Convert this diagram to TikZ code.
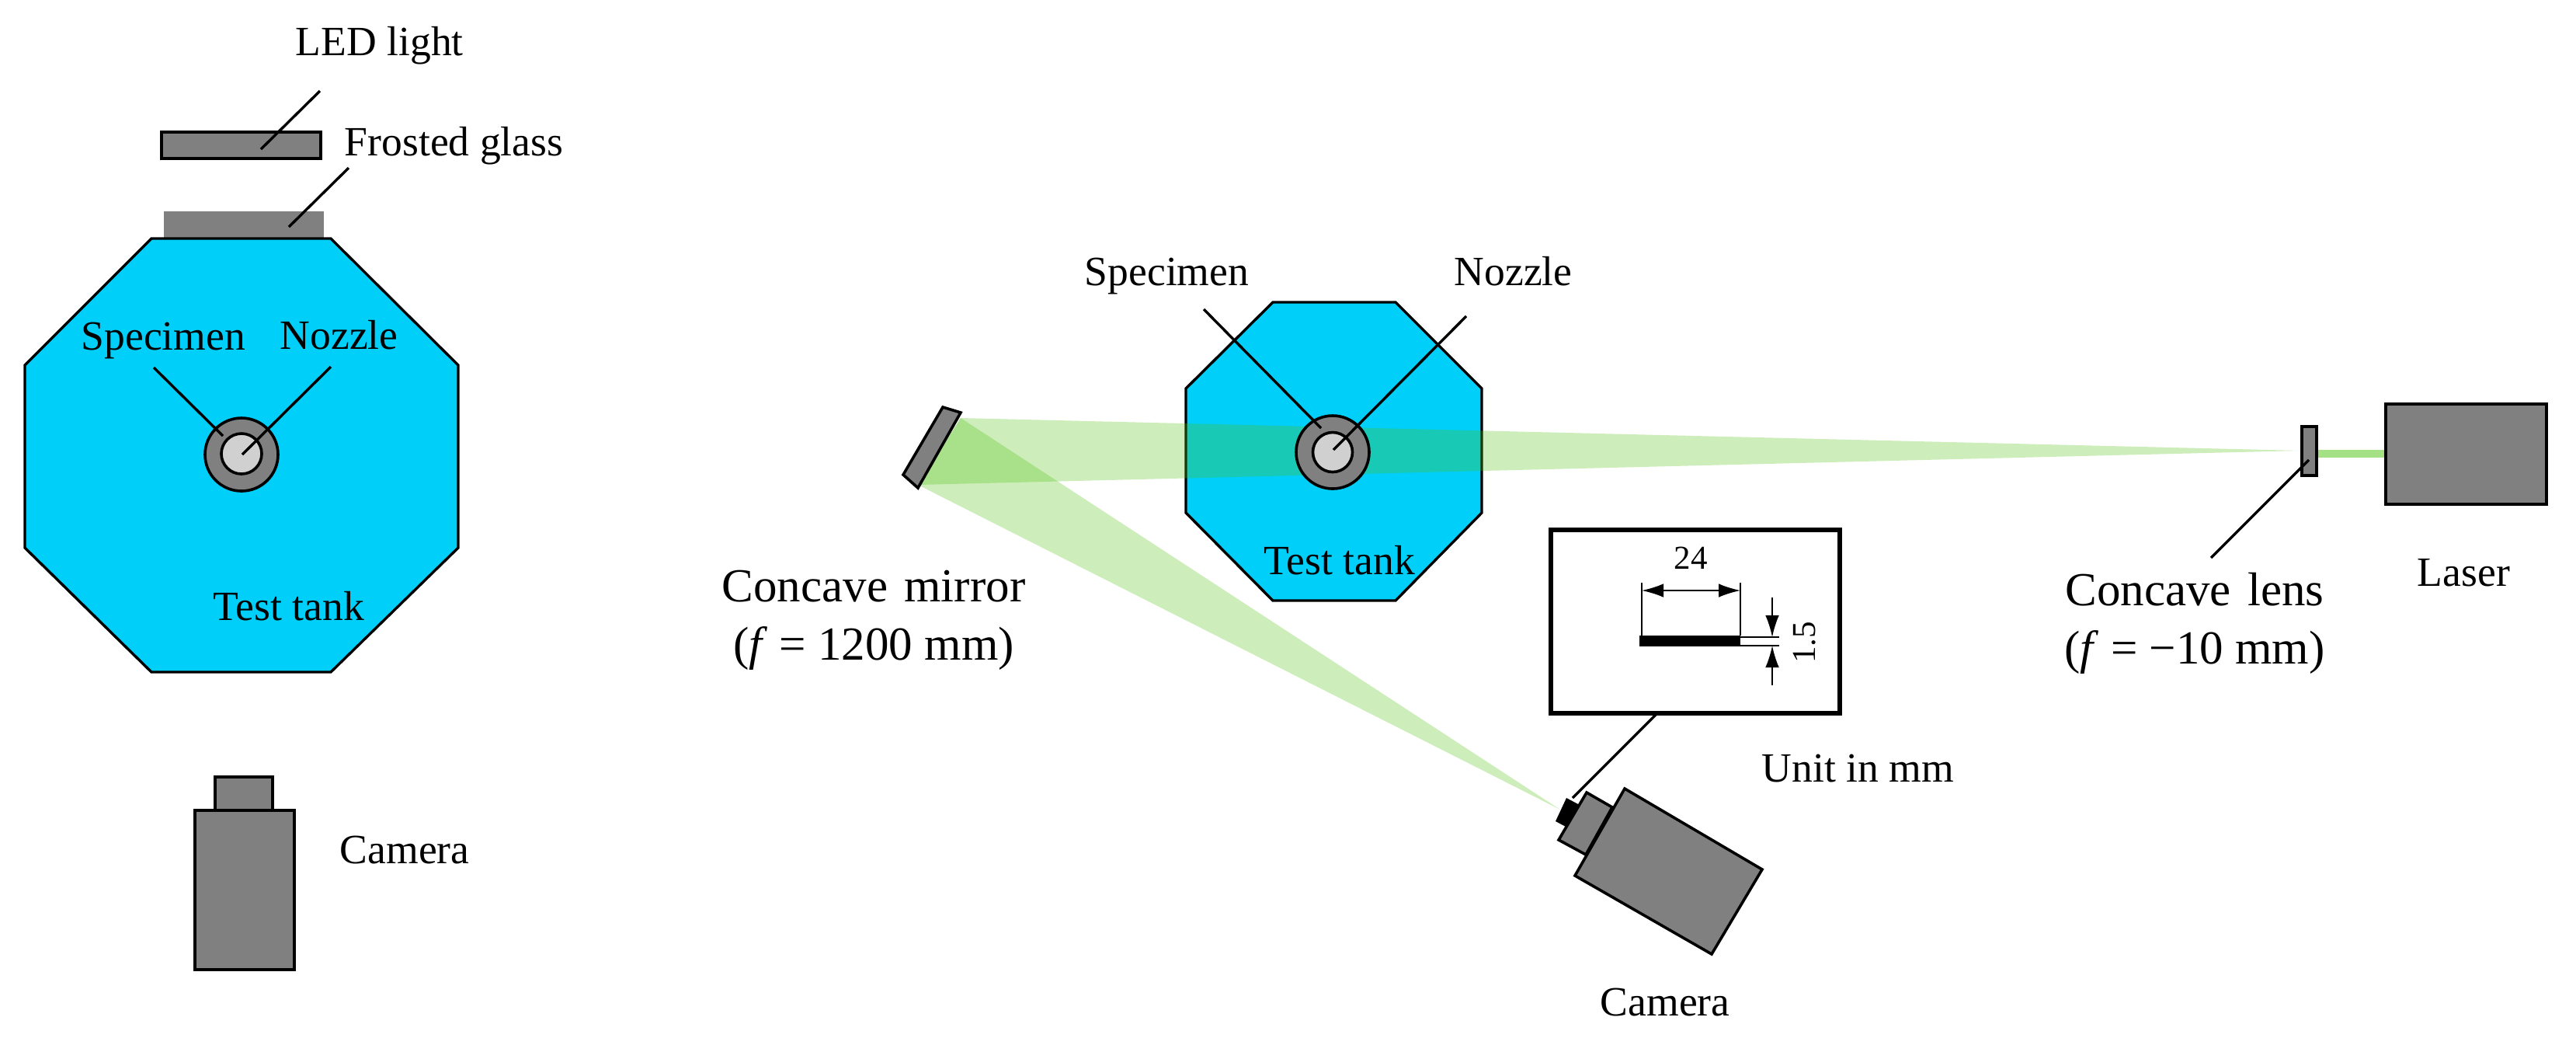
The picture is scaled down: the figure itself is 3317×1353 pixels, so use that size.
\documentclass[tikz,border=0pt]{standalone}
\usepackage{fontspec}
\setmainfont{Liberation Serif}
\usetikzlibrary{arrows.meta}
\definecolor{tankblue}{HTML}{00CFF9}
\definecolor{partgray}{HTML}{808080}
\definecolor{coregray}{HTML}{D0D0D0}
\definecolor{beamgreen}{HTML}{53C114}
\definecolor{laserbeam}{HTML}{A3E184}
\tikzset{
  part/.style={draw=black, fill=partgray, line width=0.9pt, line join=miter},
  tank/.style={draw=black, fill=tankblue, line width=0.85pt, line join=miter},
  beam/.style={fill=beamgreen, fill opacity=0.29},
  leader/.style={draw=black, line width=0.85pt},
  label/.style={inner sep=0pt, anchor=base west, font=\fontsize{13.4}{16}\selectfont},
  biglabel/.style={inner sep=0pt, align=center, font=\fontsize{15.25}{18.75}\selectfont},
  dimtext/.style={inner sep=0pt, font=\fontsize{10.75}{13}\selectfont},
  dimline/.style={draw=black, line width=0.5pt},
}

\begin{document}
\begin{tikzpicture}[x=0.25pt, y=-0.25pt, >={Latex[length=7pt,width=4.4pt]}]
    \useasboundingbox (0,0) rectangle (3317,1353);

    % Left view
    \draw[part] (208,170) rectangle (413,204);
    \fill[partgray] (211,272) rectangle (417,307);
    \draw[tank] (195,307) -- (426,307) -- (590,470) -- (590,705) -- (426,865) -- (195,865) -- (32,705) -- (32,470) -- cycle;
    \draw[part] (311,585) circle (47);
    \draw[draw=black, fill=coregray, line width=0.9pt] (311,584) circle (26);
    \draw[part] (251,1043) rectangle (379,1248);
    \draw[part] (277,1000) rectangle (351,1043);

    \coordinate (ledTop) at (412,117);
    \coordinate (ledEnd) at (336,192);
    \coordinate (glassTop) at (449,216);
    \coordinate (glassEnd) at (372,292);
    \coordinate (specTop) at (198,473);
    \coordinate (specEnd) at (287,561);
    \coordinate (nozTop) at (426,472);
    \coordinate (nozEnd) at (312,585);
    \draw[leader] (ledTop) -- (ledEnd);
    \draw[leader] (glassTop) -- (glassEnd);
    \draw[leader] (specTop) -- (specEnd);
    \draw[leader] (nozTop) -- (nozEnd);

    \node[label] (ledL) at (380,71) {LED light};
    \node[label] (glassL) at (443,200) {Frosted glass};
    \node[label] (specL) at (104,450) {Specimen};
    \node[label] (nozL) at (360,449) {Nozzle};
    \node[label] (tankL) at (274,798) {Test tank};
    \node[label] (camL) at (437,1111) {Camera};

    % Right view
    \draw[tank] (1639,389) -- (1797,389) -- (1908,500) -- (1908,660) -- (1797,773) -- (1639,773) -- (1527,660) -- (1527,500) -- cycle;

    \coordinate (mirrorA) at (1237,538);
    \coordinate (mirrorB) at (1182,624);
    \coordinate (lensTip) at (2961,580);
    \coordinate (camTip) at (2009,1042);
    \fill[beam] (mirrorA) -- (lensTip) -- (mirrorB) -- cycle;
    \fill[beam] (mirrorA) -- (camTip) -- (mirrorB) -- cycle;
    \fill[laserbeam] (2984,579) rectangle (3072,589);

    \draw[part] (1214,524) -- (1237,531) -- (1182,628) -- (1163,611) -- cycle;
    \draw[part] (1716,582) circle (47);
    \draw[draw=black, fill=coregray, line width=0.9pt] (1716,582) circle (25.5);
    \draw[part] (2964,549) rectangle (2983,612);
    \draw[part] (3072,520) rectangle (3279,649);

    % Right camera
    \draw[part] (2043,1020) -- (2076,1039) -- (2042,1100) -- (2007,1081) -- cycle;
    \draw[part] (2092,1015) -- (2269,1119) -- (2204,1228) -- (2028,1127) -- cycle;
    \fill[black] (2017,1027) -- (2034,1036) -- (2018,1065) -- (2003,1057) -- cycle;

    % Inset
    \draw[draw=black, line width=1.4pt] (1997,682) rectangle (2369,918);
    \fill[black] (2111,818) rectangle (2241,832);
    \coordinate (barL) at (2114,818);
    \coordinate (barR) at (2241,818);
    \coordinate (barLtop) at (2114,750);
    \coordinate (barRtop) at (2241,750);
    \coordinate (dimL) at (2114,760);
    \coordinate (dimR) at (2241,760);
    \draw[dimline] (barL) -- (barLtop);
    \draw[dimline] (barR) -- (barRtop);
    \draw[dimline, <->] (dimL) -- (dimR);
    \draw[dimline] (2241,820) -- (2291,820);
    \draw[dimline] (2241,831) -- (2291,831);
    \draw[dimline, ->] (2282,769) -- (2282,820);
    \draw[dimline, ->] (2282,882) -- (2282,831);
    \node[dimtext] (widthL) at (2177,718) {24};
    \node[dimtext, rotate=90] (thickL) at (2324,827) {1.5};

    \coordinate (insetFoot) at (2132,920);
    \coordinate (capTop) at (2025,1027);
    \coordinate (specTopB) at (1550,398);
    \coordinate (specEndB) at (1701,551);
    \coordinate (nozTopB) at (1888,407);
    \coordinate (nozEndB) at (1717,579);
    \coordinate (lensLow) at (2847,718);
    \coordinate (lensEnd) at (2973,592);
    \draw[leader] (insetFoot) -- (capTop);
    \draw[leader] (specTopB) -- (specEndB);
    \draw[leader] (nozTopB) -- (nozEndB);
    \draw[leader] (lensLow) -- (lensEnd);

    \node[label] (specLB) at (1396,367) {Specimen};
    \node[label] (nozLB) at (1872,367) {Nozzle};
    \node[label] (tankLB) at (1627,739) {Test tank};
    \node[label] (unitL) at (2268,1006) {Unit in mm};
    \node[label] (camLB) at (2060,1307) {Camera};
    \node[label] (laserL) at (3112,754) {Laser};
    \node[biglabel] (mirrorL) at (1125,798) {Concave\hspace{0.1em} mirror\\(\textit{f} = 1200 mm)};
    \node[biglabel] (lensL) at (2826,802) {Concave\hspace{0.1em} lens\\(\textit{f} = −10 mm)};
\end{tikzpicture}
\end{document}
